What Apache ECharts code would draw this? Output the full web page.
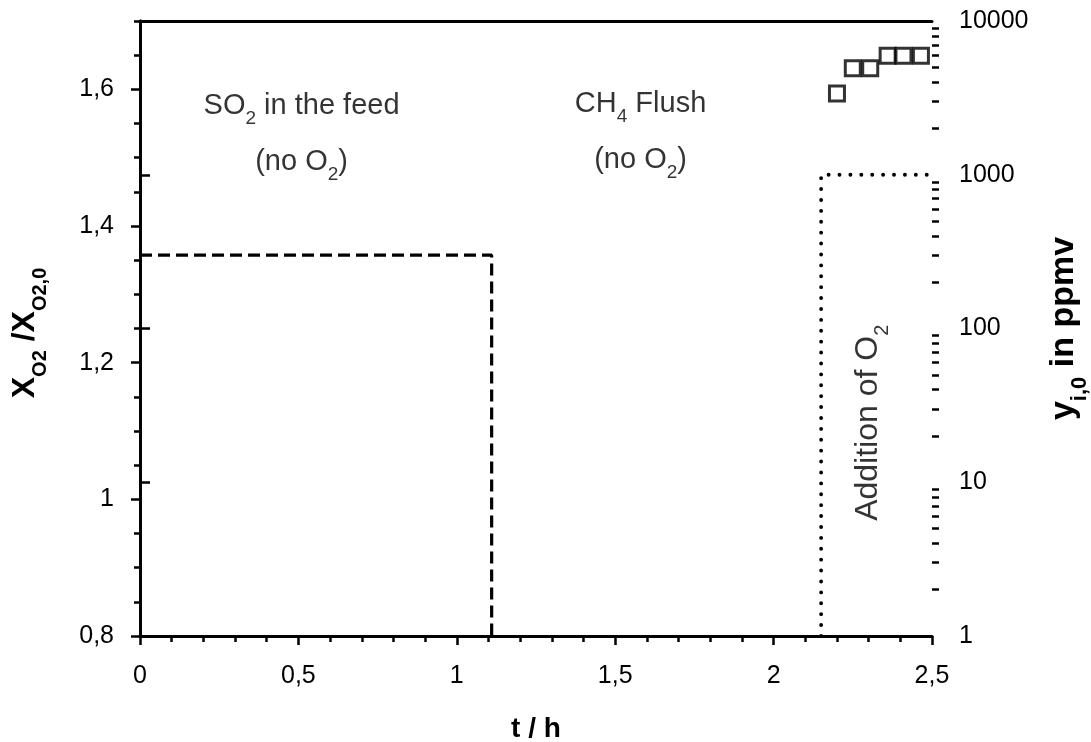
<!DOCTYPE html>
<html><head><meta charset="utf-8">
<script src="https://cdn.jsdelivr.net/npm/echarts@6/dist/echarts.min.js"></script>
<style>html,body{margin:0;padding:0;background:#fff}#c{width:1091px;height:742px}</style>
</head><body><div id="c"></div>
<script>
const FONT = "'Liberation Sans', Arial, Helvetica, sans-serif";

// ---- data ----
const leftTickValues = [0.8, 1.0, 1.2, 1.4, 1.6];
const rightTickValues = [1, 10, 100, 1000, 10000];
// SO2 feed step (ppmv, right log axis)
const so2T = [0, 1.11, 1.11];
const so2Ppm = [300, 300, 1];
// O2 addition step (ppmv, right log axis)
const o2T = [2.15, 2.15, 2.5];
const o2Ppm = [1, 1000, 1000];
// X_O2 / X_O2,0 (left axis)
const ratioT = [2.2, 2.25, 2.305, 2.36, 2.41, 2.465];
const ratioVal = [1.594, 1.631, 1.631, 1.649, 1.649, 1.649];
// annotation texts and anchors (data coords on left axis)
const annText = ['{n|SO}{s|2}{n| in the feed}', '{n|(no O}{s|2}{n|)}', '{n|CH}{s|4}{n| Flush}', '{n|(no O}{s|2}{n|)}', '{b|Addition of O}{bs|2}'];
const annT = [0.51, 0.51, 1.58, 1.58, 2.299];
const annV = [1.575, 1.493, 1.578, 1.496, 1.112];
const annRot = [0, 0, 0, 0, 90];

// log minor ticks
const logMinor = [];
for (let d = 1; d < 10000; d *= 10) for (let k = 2; k <= 9; k++) logMinor.push(k * d);

const black = '#000';
const lineW = 3;
const annRich = {
  n: {fontSize: 29, fontFamily: FONT, color: black, lineHeight: 44},
  s: {fontSize: 19, fontFamily: FONT, color: black, verticalAlign: 'bottom'},
  b: {fontSize: 32, fontFamily: FONT, color: black, lineHeight: 48},
  bs: {fontSize: 20, fontFamily: FONT, color: black, verticalAlign: 'bottom'}
};
const tickFont = {fontFamily: FONT, fontSize: 25, color: black};

const chart = echarts.init(document.getElementById('c'), null, {renderer: 'canvas'});
const option = {
  animation: false,
  backgroundColor: '#fff',
  grid: {left: 140, right: 159, top: 21, bottom: 106, containLabel: false, outerBoundsMode: 'none'},
  xAxis: [{
    type: 'value', min: 0, max: 2.5, interval: 0.5, position: 'bottom',
    name: 't / h', nameLocation: 'middle', nameGap: 79,
    nameTextStyle: {fontFamily: FONT, fontSize: 28, fontWeight: 'bold', color: black},
    axisLine: {show: true, lineStyle: {color: black, width: lineW}},
    axisTick: {show: true, inside: false, length: 9, lineStyle: {color: black, width: 2.5}},
    minorTick: {show: true, splitNumber: 5, length: 6, lineStyle: {color: black, width: 2.5}},
    axisLabel: Object.assign({margin: 28,
      formatter: v => String(Math.round(v * 10) / 10).replace('.', ',')}, tickFont),
    splitLine: {show: false}, minorSplitLine: {show: false}
  }, {
    type: 'value', min: 0, max: 2.5, position: 'top',
    axisLine: {show: true, lineStyle: {color: black, width: lineW}},
    axisTick: {show: false}, axisLabel: {show: false}, splitLine: {show: false}
  }],
  yAxis: [{
    type: 'value', min: 0.8, max: 1.7, position: 'left',
    name: '{X|X}{s|O2}{X| /X}{e|O2,0}', nameLocation: 'middle', nameRotate: 90, nameGap: 90,
    nameTextStyle: {rich: {
      X: {fontFamily: FONT, fontSize: 32, fontWeight: 'bold', color: black, lineHeight: 50},
      s: {fontFamily: FONT, fontSize: 20, fontWeight: 'bold', color: black, verticalAlign: 'bottom'},
      e: {fontFamily: FONT, fontSize: 20, fontWeight: 'bold', color: black, verticalAlign: 'bottom', padding: [0, 9, 0, 0]}
    }},
    axisLine: {show: true, lineStyle: {color: black, width: lineW}},
    axisTick: {show: true, length: 9, customValues: leftTickValues, lineStyle: {color: black, width: 2.5}},
    axisLabel: Object.assign({margin: 26, customValues: leftTickValues,
      formatter: v => String(Math.round(v * 10) / 10).replace('.', ',')}, tickFont),
    splitLine: {show: false}
  }, {
    type: 'log', logBase: 10, min: 1, max: 10000, position: 'right',
    name: '{m|y}{s|i,0}{m| in ppmv}', nameLocation: 'middle', nameRotate: 90, nameGap: 105,
    nameTextStyle: {rich: {
      m: {fontFamily: FONT, fontSize: 34, fontWeight: 'bold', color: black, lineHeight: 54},
      s: {fontFamily: FONT, fontSize: 22, fontWeight: 'bold', color: black, verticalAlign: 'bottom'}
    }},
    axisLine: {show: true, lineStyle: {color: black, width: lineW}},
    axisTick: {show: true, length: 10, customValues: rightTickValues, lineStyle: {color: black, width: 2.5}},
    axisLabel: Object.assign({margin: 27, customValues: rightTickValues,
      formatter: v => String(Math.round(v))}, tickFont),
    splitLine: {show: false}
  }, {
    type: 'log', logBase: 10, min: 1, max: 10000, position: 'right',
    axisLine: {show: false},
    axisTick: {show: true, length: 7, customValues: logMinor, lineStyle: {color: black, width: 2.5}},
    axisLabel: {show: false}, splitLine: {show: false}
  }, {
    type: 'value', min: 0.8, max: 1.7, interval: 0.05, position: 'left',
    axisLine: {show: false},
    axisTick: {show: true, length: 6, lineStyle: {color: black, width: 2.5}},
    axisLabel: {show: false}, splitLine: {show: false}
  }],
  series: [{
    type: 'line', name: 'SO2', yAxisIndex: 1, showSymbol: false, symbol: 'none',
    data: so2T.map((t, i) => [t, so2Ppm[i]]),
    lineStyle: {color: black, width: 3.2, type: [12, 6]}, z: 3
  }, {
    type: 'line', name: 'O2', yAxisIndex: 1, showSymbol: false, symbol: 'none',
    data: o2T.map((t, i) => [t, o2Ppm[i]]),
    lineStyle: {color: black, width: 3.8, type: [0.1, 10.8], cap: 'round'}, z: 3
  }, {
    type: 'scatter', name: 'ratio', yAxisIndex: 0, symbol: 'rect', symbolSize: 15,
    data: ratioT.map((t, i) => [t, ratioVal[i]]),
    itemStyle: {color: '#fff', borderColor: black, borderWidth: 3}, z: 4
  }, {
    type: 'scatter', name: 'annotations', yAxisIndex: 0, symbolSize: 0, silent: true,
    itemStyle: {color: black},
    data: annText.map((s, i) => ({value: [annT[i], annV[i]], label: {formatter: s, rotate: annRot[i]}})),
    label: {show: true, position: [0, 0], align: 'center', verticalAlign: 'middle', rich: annRich,
      color: black, textBorderWidth: 0, textBorderColor: 'transparent'}, z: 5
  }]
};
chart.setOption(option);
</script></body></html>
